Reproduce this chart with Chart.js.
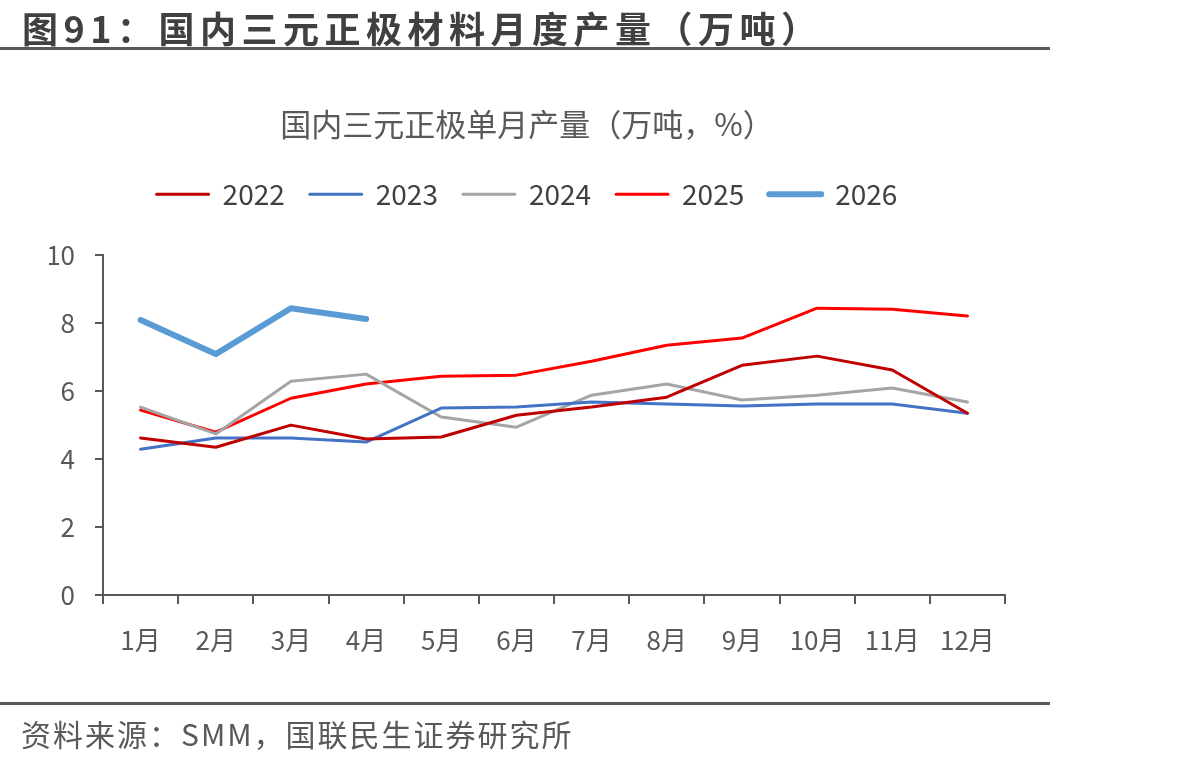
<!DOCTYPE html>
<html>
<head>
<meta charset="utf-8">
<script src="https://cdn.jsdelivr.net/npm/chart.js@4.4.1/dist/chart.umd.min.js"></script>
<style>
  body { margin: 0; background: #fff; font-family: "Noto Sans CJK SC", sans-serif; }
  #wrap { position: relative; width: 1199px; height: 765px; overflow: hidden; }
  #head { position: absolute; left: 22px; top: 1px; font-size: 36px; font-weight: bold; color: #404040; white-space: nowrap; letter-spacing: 5.5px; }
  .rule { position: absolute; left: 0; width: 1050px; height: 3px; background: #595959; }
  #src { position: absolute; left: 21px; top: 711px; font-size: 30px; color: #595959; white-space: nowrap; letter-spacing: 2px; }
  canvas { position: absolute; left: 0; top: 0; }
</style>
</head>
<body>
<div id="wrap">
  <canvas id="prod" width="1199" height="765"></canvas>
  <div id="head">图91：国内三元正极材料月度产量（万吨）</div>
  <div class="rule" style="top:47px"></div>
  <div class="rule" style="top:702px"></div>
  <div id="src">资料来源：SMM，国联民生证券研究所</div>
</div>
<script>
var months = ["1月", "2月", "3月", "4月", "5月", "6月", "7月", "8月", "9月", "10月", "11月", "12月"];
var y2022 = [4.62, 4.35, 5.0, 4.59, 4.65, 5.29, 5.53, 5.82, 6.76, 7.03, 6.62, 5.35];
var y2023 = [4.29, 4.62, 4.62, 4.5, 5.5, 5.53, 5.68, 5.62, 5.56, 5.62, 5.62, 5.35];
var y2024 = [5.53, 4.74, 6.29, 6.5, 5.24, 4.94, 5.88, 6.21, 5.74, 5.88, 6.09, 5.68];
var y2025 = [5.44, 4.79, 5.79, 6.21, 6.44, 6.47, 6.88, 7.35, 7.56, 8.44, 8.41, 8.21];
var y2026 = [8.09, 7.09, 8.44, 8.12];

var font = "'Noto Sans CJK SC', sans-serif";

function series(label, data, color, width) {
  return {
    label: label,
    data: data,
    borderColor: color,
    backgroundColor: color,
    borderWidth: width,
    pointRadius: 0,
    tension: 0,
    borderJoinStyle: "round",
    borderCapStyle: "round"
  };
}

new Chart("prod", {
  type: "line",
  data: {
    labels: months,
    datasets: [
      series("2022", y2022, "#C00000", 3),
      series("2023", y2023, "#4472C4", 3),
      series("2024", y2024, "#A5A5A5", 3),
      series("2025", y2025, "#FF0000", 3),
      series("2026", y2026, "#5B9BD5", 6)
    ]
  },
  options: {
    responsive: false,
    animation: false,
    layout: { padding: { left: 49, right: 194, top: 0, bottom: 0 } },
    plugins: {
      title: {
        display: true,
        text: "国内三元正极单月产量（万吨，%）",
        color: "#595959",
        font: { family: font, size: 31, weight: "normal" },
        padding: { top: 106, bottom: 12 }
      },
      // empty spacer under the legend
      subtitle: {
        display: true,
        text: " ",
        weight: 500,
        font: { size: 1, lineHeight: 1 },
        padding: { top: 0, bottom: 36 }
      },
      legend: {
        labels: {
          color: "#404040",
          font: { family: font, size: 28 },
          boxWidth: 52,
          boxHeight: 0,
          padding: 25
        }
      },
      tooltip: { enabled: false }
    },
    scales: {
      x: {
        offset: true,
        grid: { offset: true, drawOnChartArea: false, tickLength: 9, color: "#595959", lineWidth: 2 },
        border: { color: "#595959", width: 2 },
        ticks: { color: "#595959", font: { family: font, size: 26 }, padding: 21, maxRotation: 0 },
        afterFit: function (s) { s.height = 170; }
      },
      y: {
        min: 0,
        max: 10,
        ticks: { stepSize: 2, color: "#595959", font: { family: font, size: 26 }, padding: 20 },
        grid: { drawOnChartArea: false, tickLength: 8, color: "#595959", lineWidth: 2 },
        border: { color: "#595959", width: 2 },
        afterFit: function (s) { s.width = 54; }
      }
    }
  }
});
</script>
</body>
</html>
